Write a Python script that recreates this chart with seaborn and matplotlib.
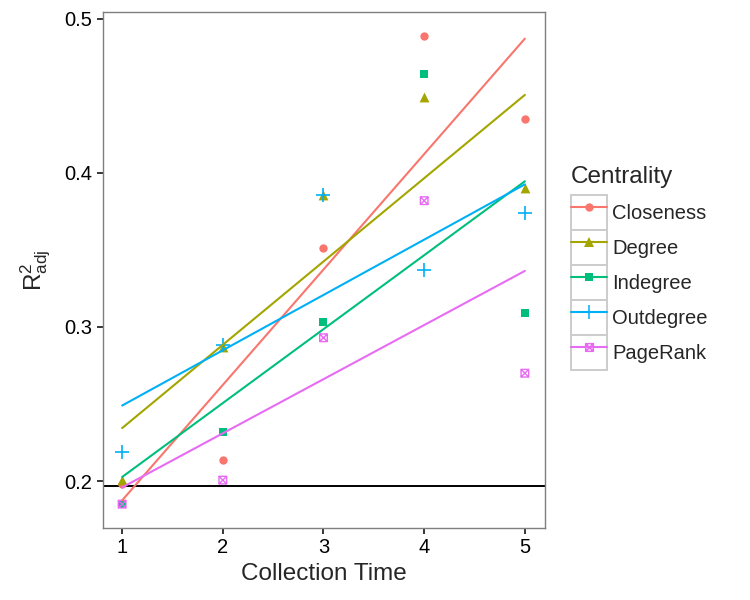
import numpy as np
import pandas as pd
import seaborn as sns
import matplotlib.pyplot as plt
from matplotlib.path import Path
from matplotlib.patches import Rectangle
from matplotlib.lines import Line2D
from matplotlib.legend_handler import HandlerLine2D

collection_time = [1, 2, 3, 4, 5]
closeness = [0.198, 0.2136, 0.351, 0.489, 0.435]
degree = [0.2006, 0.287, 0.386, 0.449, 0.390]
indegree = [0.185, 0.232, 0.303, 0.464, 0.309]
outdegree = [0.219, 0.288, 0.386, 0.337, 0.374]
pagerank = [0.185, 0.2006, 0.293, 0.382, 0.270]
baseline = 0.1965

centralities = ["Closeness", "Degree", "Indegree", "Outdegree", "PageRank"]
series = [closeness, degree, indegree, outdegree, pagerank]
colors = ["#F8766D", "#A3A500", "#00BF7D", "#00B0F6", "#E76BF3"]

df = pd.DataFrame({
    "time": collection_time * len(centralities),
    "r2": np.concatenate(series),
    "Centrality": np.repeat(centralities, len(collection_time)),
})

# square with an x inside, like ggplot shape 7
box_x = Path(
    [(-1, -1), (1, -1), (1, 1), (-1, 1), (-1, -1),
     (-1, -1), (1, 1), (-1, 1), (1, -1)],
    [Path.MOVETO, Path.LINETO, Path.LINETO, Path.LINETO, Path.CLOSEPOLY,
     Path.MOVETO, Path.LINETO, Path.MOVETO, Path.LINETO],
)
markers = {"Closeness": "o", "Degree": "^", "Indegree": "s",
           "Outdegree": "+", "PageRank": box_x}
sizes = {"Closeness": 36, "Degree": 50, "Indegree": 30,
         "Outdegree": 110, "PageRank": 30}
msizes = {"Closeness": 6, "Degree": 7, "Indegree": 5.5,
          "Outdegree": 10, "PageRank": 5.5}

sns.set_style("ticks", {"axes.edgecolor": "#7f7f7f"})
plt.rcParams["font.family"] = ["Liberation Sans", "DejaVu Sans"]
plt.rcParams["mathtext.fontset"] = "custom"
plt.rcParams["mathtext.rm"] = "Liberation Sans"
plt.rcParams["mathtext.it"] = "Liberation Sans"

fig = plt.figure(figsize=(7.5, 6), dpi=100)
ax = fig.add_axes([103 / 750, 72 / 600, 442 / 750, 516 / 600])

ax.axhline(baseline, color="black", lw=1.4, zorder=1)

for name, col in zip(centralities, colors):
    sub = df[df["Centrality"] == name]
    m = markers[name]
    if name == "PageRank":
        skw = {"s": sizes[name], "facecolors": "none", "edgecolors": col,
               "linewidths": 1.0, "alpha": 1}
    elif name == "Outdegree":
        skw = {"s": sizes[name], "linewidths": 1.2, "alpha": 1}
    else:
        skw = {"s": sizes[name], "linewidths": 0, "alpha": 1}
    sns.regplot(data=sub, x="time", y="r2", ax=ax, ci=None, color=col,
                marker=m, scatter_kws=skw, line_kws={"lw": 1.5})

ax.set_xlim(0.81, 5.2)
ax.set_ylim(0.1695, 0.5045)
ax.set_xticks(collection_time)
ax.set_yticks([0.2, 0.3, 0.4, 0.5])
ax.set_yticklabels(["0.2", "0.3", "0.4", "0.5"])
ax.tick_params(labelsize=14.5, colors="black", length=4.5, width=1.1, pad=3)
for sp in ax.spines.values():
    sp.set_color("#7f7f7f")
    sp.set_linewidth(1.0)
ax.set_xlabel("Collection Time", fontsize=17.5, labelpad=4)
ax.set_ylabel(r"$\mathregular{R^2_{adj}}$", fontsize=17.5, labelpad=8)


class BoxedKey(HandlerLine2D):
    def create_artists(self, legend, orig_handle, xdescent, ydescent,
                       width, height, fontsize, trans):
        arts = super().create_artists(legend, orig_handle, xdescent, ydescent,
                                      width, height, fontsize, trans)
        box = Rectangle((-xdescent, -ydescent), width, height,
                        facecolor="white", edgecolor="#cccccc", lw=1.4,
                        transform=trans)
        return [box] + list(arts)


handles = []
for name, col in zip(centralities, colors):
    filled = name not in ("Outdegree", "PageRank")
    handles.append(Line2D([], [], color=col, lw=1.5, marker=markers[name],
                          markersize=msizes[name],
                          markerfacecolor=col if name != "PageRank" else "none",
                          markeredgecolor=col,
                          markeredgewidth=0 if filled else 1.1))

fs = 14.5
key_px = 36
key_units = key_px / (fs * 100 / 72)
leg = fig.legend(handles, centralities, title="Centrality",
                 loc="upper left", bbox_to_anchor=(571 / 750, 1 - 166 / 600),
                 frameon=False, fontsize=fs, title_fontsize=17.5,
                 handlelength=key_units, handleheight=key_units * 36 / 28,
                 labelspacing=0, handletextpad=0.25, borderpad=0,
                 borderaxespad=0, numpoints=1, alignment="left",
                 handler_map={Line2D: BoxedKey()})
leg._legend_box.sep = 5

fig.savefig("out.png", dpi=100)
